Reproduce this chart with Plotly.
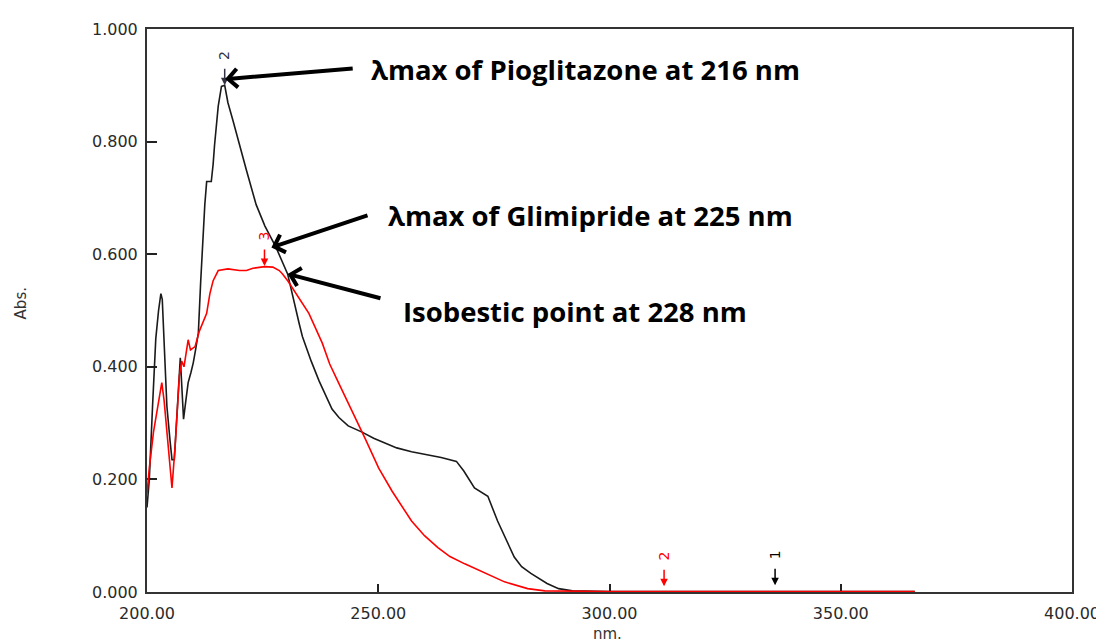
import plotly.graph_objects as go

# Black spectrum (Pioglitazone / mixture)
black_nm = [200.0, 200.5, 201.2, 201.9, 202.5, 203.0, 203.3, 203.6, 204.3, 205.0, 205.4, 205.9,
            206.4, 206.8, 207.2, 207.5, 207.9, 208.4, 208.9, 209.5, 210.0, 210.5, 211.1, 211.6,
            212.1, 212.5, 212.9, 213.9, 214.3, 214.6, 215.4, 216.1, 216.8, 217.5, 218.6, 220.0,
            221.5, 223.6, 225.5, 227.9, 230.4, 232.9, 233.6, 235.5, 237.2, 240.0, 241.5, 243.5,
            246.5, 249.0, 251.5, 254.0, 257.2, 260.0, 263.6, 266.9, 268.5, 270.8, 273.7, 275.8,
            277.5, 279.4, 281.0, 283.0, 286.5, 289.0, 292.0, 300.0, 330.0, 366.0]
black_abs = [0.150, 0.200, 0.330, 0.450, 0.500, 0.530, 0.520, 0.460, 0.330, 0.267, 0.235, 0.235,
             0.296, 0.360, 0.416, 0.370, 0.307, 0.340, 0.372, 0.390, 0.407, 0.430, 0.460, 0.550,
             0.630, 0.688, 0.729, 0.729, 0.760, 0.793, 0.863, 0.898, 0.900, 0.869, 0.837, 0.793,
             0.749, 0.688, 0.650, 0.612, 0.565, 0.477, 0.454, 0.410, 0.375, 0.325, 0.310, 0.295,
             0.284, 0.273, 0.264, 0.256, 0.249, 0.245, 0.239, 0.232, 0.215, 0.185, 0.170, 0.126,
             0.095, 0.062, 0.045, 0.033, 0.015, 0.006, 0.002, 0.001, 0.001, 0.001]

# Red spectrum (Glimepiride)
red_nm = [200.0, 200.5, 201.4, 202.5, 203.2, 203.7, 204.3, 204.9, 205.4, 206.1, 207.0, 207.5,
          208.0, 208.9, 209.4, 210.4, 211.3, 212.9, 213.6, 214.3, 215.4, 217.5, 220.0, 221.5,
          222.9, 225.4, 227.2, 228.6, 229.3, 230.5, 232.2, 235.0, 237.9, 239.5, 241.5, 243.3,
          245.1, 247.2, 250.1, 253.0, 257.2, 260.0, 262.9, 265.5, 268.7, 273.0, 277.3, 282.3,
          286.0, 300.0, 366.0]
red_abs = [0.174, 0.220, 0.284, 0.343, 0.372, 0.340, 0.284, 0.230, 0.185, 0.261, 0.384, 0.410,
           0.400, 0.448, 0.430, 0.436, 0.463, 0.495, 0.530, 0.553, 0.571, 0.574, 0.571, 0.571,
           0.575, 0.578, 0.577, 0.571, 0.565, 0.552, 0.530, 0.495, 0.442, 0.405, 0.370, 0.340,
           0.308, 0.272, 0.220, 0.179, 0.126, 0.100, 0.079, 0.063, 0.050, 0.034, 0.018, 0.006,
           0.002, 0.001, 0.001]

# Peak-pick markers
peak_labels = ["2", "3", "2", "1"]
peak_nm = [216.8, 225.4, 311.8, 335.8]
peak_abs = [0.900, 0.579, 0.010, 0.012]
peak_colors = ["#333344", "#ff0000", "#ff0000", "#000000"]

x_ticks = [200, 250, 300, 350, 400]
y_ticks = [0.0, 0.2, 0.4, 0.6, 0.8, 1.0]

fig = go.Figure()
fig.add_trace(go.Scatter(x=black_nm, y=black_abs, mode="lines",
                         line=dict(color="#1a1a1a", width=1.6), showlegend=False))
fig.add_trace(go.Scatter(x=red_nm, y=red_abs, mode="lines",
                         line=dict(color="#ff0000", width=1.6), showlegend=False))

tick_font = dict(family="DejaVu Sans, Verdana, sans-serif", size=16, color="#2a2a2a")
small_font = dict(family="DejaVu Sans, Verdana, sans-serif", size=15, color="#333333")

fig.update_layout(
    width=1104, height=642, autosize=False,
    margin=dict(l=139, r=35, t=15, b=58),
    paper_bgcolor="white", plot_bgcolor="white",
    xaxis=dict(range=[200, 400], tickvals=x_ticks, ticktext=[f"{v:.2f}" for v in x_ticks],
               ticks="inside", ticklen=8, tickwidth=1.5, tickcolor="#222222",
               showline=True, mirror=True, linewidth=2, linecolor="#333333",
               showgrid=False, zeroline=False, tickfont=tick_font, layer="below traces",
               ticklabelstandoff=6),
    yaxis=dict(range=[0, 1], tickvals=y_ticks, ticktext=[f"{v:.3f}" for v in y_ticks],
               ticks="inside", ticklen=10, tickwidth=1.5, tickcolor="#222222",
               showline=True, mirror=True, linewidth=2, linecolor="#333333",
               showgrid=False, zeroline=False, tickfont=tick_font, layer="below traces",
               ticklabelstandoff=4),
)

# axis titles
fig.add_annotation(text="Abs.", xref="paper", yref="paper", x=-0.1366, y=0.512,
                   xanchor="center", yanchor="middle", showarrow=False, textangle=-90,
                   font=small_font)
fig.add_annotation(text="nm.", xref="paper", yref="paper", x=0.498, y=-0.075,
                   xanchor="center", yanchor="middle", showarrow=False, font=small_font)

# peak pick markers: short down-arrow plus rotated number above it
for lab, px, py, col in zip(peak_labels, peak_nm, peak_abs, peak_colors):
    fig.add_annotation(x=px, y=py, xref="x", yref="y", text="", showarrow=True,
                       ax=0, ay=-18, arrowhead=2, arrowsize=1.0, arrowwidth=1.5,
                       arrowcolor=col, standoff=0)
    fig.add_annotation(x=px, y=py, xref="x", yref="y", text=lab, showarrow=False,
                       xanchor="center", yanchor="middle", yshift=30, textangle=-90,
                       font=dict(family="DejaVu Sans, Verdana, sans-serif", size=14, color=col))

# callout arrows and labels
callout_text = ["λmax of Pioglitazone at 216 nm", "λmax of Glimipride at 225 nm",
                "Isobestic point at 228 nm"]
text_pos = [(248.0, 0.928), (251.7, 0.668), (254.9, 0.498)]
arrow_tail = [(244.8, 0.930), (248.0, 0.670), (250.8, 0.521)]
arrow_tip = [(216.9, 0.911), (226.9, 0.612), (230.4, 0.565)]

for t, (tx, ty), (axx, ayy), (hx, hy) in zip(callout_text, text_pos, arrow_tail, arrow_tip):
    fig.add_annotation(x=hx, y=hy, ax=axx, ay=ayy, xref="x", yref="y", axref="x", ayref="y",
                       text="", showarrow=True, arrowhead=4, arrowsize=0.9, arrowwidth=4,
                       arrowcolor="black", standoff=0)
    fig.add_annotation(x=tx, y=ty, xref="x", yref="y", text=t, showarrow=False,
                       xanchor="left", yanchor="middle",
                       font=dict(family="Open Sans, sans-serif", size=27.5, color="black",
                                 weight="bold"))

fig.write_html("out.html")
